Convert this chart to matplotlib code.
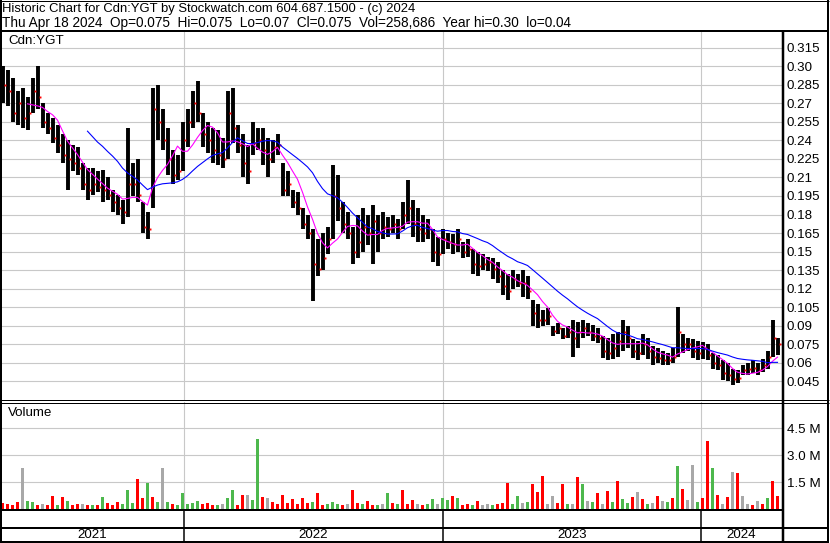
import numpy as np
import pandas as pd
import matplotlib
matplotlib.use("Agg")
import matplotlib.pyplot as plt
from matplotlib.lines import Line2D

W, H = 830, 543
plt.rcParams['font.family'] = ['Liberation Sans', 'DejaVu Sans']
FS = 9.6

# one sample = 5 trading days (about 5 px in the original chart)
step = 5
highs = [0.300, 0.297, 0.290, 0.280, 0.282, 0.275, 0.290, 0.300, 0.270, 0.262,
         0.258, 0.252, 0.245, 0.240, 0.236, 0.235, 0.222, 0.218, 0.218, 0.215,
         0.216, 0.210, 0.200, 0.196, 0.192, 0.250, 0.222, 0.225, 0.190, 0.182,
         0.282, 0.285, 0.265, 0.250, 0.232, 0.228, 0.255, 0.265, 0.280, 0.288,
         0.262, 0.255, 0.250, 0.248, 0.242, 0.280, 0.282, 0.252, 0.245, 0.236,
         0.255, 0.250, 0.250, 0.242, 0.240, 0.245, 0.222, 0.215, 0.200, 0.198,
         0.185, 0.180, 0.168, 0.160, 0.165, 0.170, 0.220, 0.212, 0.190, 0.182,
         0.170, 0.180, 0.185, 0.180, 0.188, 0.180, 0.182, 0.178, 0.180, 0.176,
         0.190, 0.208, 0.192, 0.185, 0.180, 0.176, 0.168, 0.162, 0.168, 0.165,
         0.164, 0.168, 0.158, 0.160, 0.152, 0.150, 0.148, 0.146, 0.145, 0.142,
         0.135, 0.132, 0.135, 0.132, 0.135, 0.130, 0.111, 0.108, 0.103, 0.104,
         0.090, 0.092, 0.088, 0.090, 0.095, 0.093, 0.095, 0.092, 0.091, 0.088,
         0.082, 0.080, 0.083, 0.085, 0.095, 0.090, 0.079, 0.078, 0.083, 0.080,
         0.074, 0.072, 0.070, 0.068, 0.072, 0.105, 0.083, 0.080, 0.079, 0.078,
         0.077, 0.075, 0.068, 0.066, 0.062, 0.060, 0.055, 0.054, 0.058, 0.060,
         0.062, 0.060, 0.063, 0.070, 0.095, 0.080]
lows = [0.270, 0.268, 0.255, 0.252, 0.250, 0.248, 0.262, 0.265, 0.250, 0.245,
        0.238, 0.230, 0.222, 0.200, 0.215, 0.212, 0.200, 0.192, 0.196, 0.198,
        0.190, 0.192, 0.182, 0.180, 0.172, 0.178, 0.195, 0.190, 0.165, 0.160,
        0.185, 0.240, 0.232, 0.212, 0.205, 0.208, 0.215, 0.235, 0.250, 0.255,
        0.235, 0.230, 0.222, 0.220, 0.218, 0.225, 0.238, 0.230, 0.210, 0.205,
        0.228, 0.232, 0.220, 0.210, 0.222, 0.228, 0.195, 0.195, 0.185, 0.180,
        0.168, 0.160, 0.110, 0.130, 0.135, 0.148, 0.160, 0.175, 0.165, 0.160,
        0.140, 0.145, 0.150, 0.155, 0.140, 0.150, 0.160, 0.162, 0.165, 0.160,
        0.168, 0.172, 0.162, 0.158, 0.158, 0.160, 0.142, 0.138, 0.148, 0.152,
        0.148, 0.150, 0.145, 0.146, 0.132, 0.130, 0.135, 0.134, 0.128, 0.125,
        0.115, 0.111, 0.120, 0.121, 0.113, 0.112, 0.090, 0.088, 0.090, 0.091,
        0.082, 0.083, 0.079, 0.080, 0.065, 0.072, 0.080, 0.082, 0.078, 0.076,
        0.064, 0.062, 0.063, 0.065, 0.070, 0.072, 0.064, 0.062, 0.066, 0.063,
        0.058, 0.060, 0.058, 0.058, 0.060, 0.065, 0.068, 0.070, 0.064, 0.062,
        0.063, 0.062, 0.055, 0.054, 0.046, 0.045, 0.042, 0.044, 0.050, 0.050,
        0.052, 0.050, 0.053, 0.055, 0.065, 0.066]
closes = [0.285, 0.280, 0.262, 0.270, 0.258, 0.262, 0.280, 0.275, 0.255, 0.250,
          0.242, 0.236, 0.228, 0.225, 0.222, 0.218, 0.205, 0.200, 0.205, 0.202,
          0.200, 0.196, 0.190, 0.185, 0.182, 0.205, 0.205, 0.196, 0.170, 0.168,
          0.265, 0.255, 0.240, 0.225, 0.212, 0.215, 0.240, 0.255, 0.270, 0.262,
          0.245, 0.240, 0.232, 0.228, 0.225, 0.262, 0.250, 0.236, 0.222, 0.215,
          0.238, 0.240, 0.232, 0.225, 0.235, 0.236, 0.200, 0.205, 0.190, 0.185,
          0.172, 0.165, 0.140, 0.136, 0.145, 0.160, 0.195, 0.185, 0.172, 0.165,
          0.150, 0.158, 0.170, 0.165, 0.175, 0.165, 0.170, 0.168, 0.172, 0.168,
          0.180, 0.185, 0.172, 0.168, 0.165, 0.168, 0.150, 0.148, 0.160, 0.158,
          0.156, 0.160, 0.150, 0.152, 0.140, 0.138, 0.140, 0.142, 0.136, 0.130,
          0.122, 0.118, 0.128, 0.125, 0.125, 0.118, 0.100, 0.095, 0.095, 0.098,
          0.086, 0.088, 0.082, 0.085, 0.080, 0.085, 0.088, 0.085, 0.082, 0.080,
          0.070, 0.068, 0.072, 0.078, 0.085, 0.080, 0.070, 0.068, 0.075, 0.070,
          0.065, 0.064, 0.062, 0.062, 0.065, 0.085, 0.075, 0.075, 0.070, 0.068,
          0.072, 0.066, 0.060, 0.058, 0.052, 0.050, 0.047, 0.048, 0.054, 0.055,
          0.056, 0.054, 0.058, 0.065, 0.080, 0.075]
# volume in millions of shares
volumes = [0.35, 0.30, 0.25, 0.40, 2.30, 0.45, 0.40, 0.25, 0.30, 0.20,
           0.72, 0.20, 0.68, 0.45, 0.25, 0.30, 0.30, 0.20, 0.20, 0.25,
           0.68, 0.35, 0.25, 0.40, 0.30, 1.06, 0.35, 1.67, 0.60, 1.45,
           0.68, 0.40, 2.30, 0.40, 0.30, 0.25, 0.90, 0.30, 0.35, 0.45,
           0.30, 0.35, 0.25, 0.20, 0.30, 0.60, 1.06, 0.25, 0.78, 0.77,
           0.50, 3.90, 0.68, 0.60, 0.40, 0.30, 0.80, 0.35, 0.55, 0.30,
           0.60, 0.35, 0.40, 0.90, 0.25, 0.30, 0.40, 0.30, 0.25, 0.30,
           1.06, 0.35, 0.30, 0.45, 0.25, 0.20, 0.30, 0.90, 0.35, 0.30,
           1.06, 0.30, 0.50, 0.30, 0.25, 0.30, 0.55, 0.30, 0.60, 0.50,
           0.75, 0.60, 0.25, 0.30, 0.25, 0.45, 0.25, 0.30, 0.25, 0.30,
           0.35, 1.45, 0.30, 0.70, 0.35, 0.40, 1.40, 0.95, 1.85, 0.30,
           0.75, 0.35, 1.40, 0.30, 0.30, 1.80, 1.40, 0.45, 0.40, 0.90,
           0.30, 1.00, 0.40, 1.55, 0.55, 0.35, 0.65, 0.95, 0.55, 0.30,
           0.35, 0.75, 0.45, 0.40, 0.60, 2.40, 1.10, 0.50, 2.45, 0.40,
           0.60, 3.80, 2.30, 0.80, 0.30, 0.65, 2.05, 2.00, 0.70, 0.30,
           0.25, 0.45, 0.30, 0.60, 1.55, 0.75]
# colour code per volume bar: r = down, g = up, k = unchanged
vol_codes = ("rrrrkggrkr" "rgrgrrkrgr" "grrrgggrrg" "rgkgrggggg"
             "rrrgkggrrk" "ggrkrrrrrr" "rrgrrgggrk" "rrgrrgkgrg"
             "rrrkrggkgg" "rgrrgrkkgr" "rrggkgrrrk" "krrgkrgkgr"
             "krgrggrkrg" "krkgrgrkkg" "rrgrkrkrkk" "rkrgrr")
year_names = ["2021", "2022", "2023", "2024"]
year_starts = [0, 184, 443, 701]
chart_end = 782
price_ticks = [0.045, 0.06, 0.075, 0.09, 0.105, 0.12, 0.135, 0.15, 0.165, 0.18,
               0.195, 0.21, 0.225, 0.24, 0.255, 0.27, 0.285, 0.30, 0.315]
vol_ticks = [1.5, 3.0, 4.5]

x = np.arange(len(closes)) * step + step / 2
close_s = pd.Series(closes)
ma_short = close_s.rolling(6).mean()
ma_long = close_s.rolling(18).mean()
colmap = {"r": "#ff0000", "g": "#4db84d", "k": "#a8a8a8"}
vcolors = [colmap[c] for c in vol_codes]


def fx(px):
    return px / W


def fy(py):
    return 1 - py / H


def pxline(fig, x0, y0, x1, y1, lw=1, color="black"):
    fig.add_artist(Line2D([fx(x0), fx(x1)], [fy(y0), fy(y1)], transform=fig.transFigure,
                          color=color, lw=lw * 0.72, solid_capstyle="butt"))


def rect(top, bottom, left=0, right=chart_end):
    return [fx(left), fy(bottom), fx(right) - fx(left), fy(top) - fy(bottom)]


fig = plt.figure(figsize=(W / 100, H / 100), dpi=100)
fig.patch.set_facecolor("white")

# --- price panel ---
ax = fig.add_axes(rect(32, 400))
ax.set_xlim(0, chart_end)
ax.set_ylim(0.03, 0.3276)
for t in price_ticks:
    ax.axhline(t, color="#c8c8c8", lw=0.8, zorder=0)
for xs in year_starts[1:]:
    ax.axvline(xs, color="#c8c8c8", lw=0.8, zorder=0)
ax.vlines(x, lows, highs, color="black", lw=2.8, zorder=2)
ax.plot(x + 2, closes, "s", color="#ff0000", ms=1.4, mew=0, zorder=3)
ax.plot(x, ma_short, color="#ff00ff", lw=0.8, zorder=4)
ax.plot(x, ma_long, color="#0000ff", lw=0.8, zorder=4)
ax.yaxis.tick_right()
ax.set_yticks(price_ticks)
ax.set_yticklabels([("%.3f" % t)[:-1] if ("%.3f" % t).endswith("0") else "%.3f" % t
                    for t in price_ticks], fontsize=FS)
ax.tick_params(axis="y", length=0, pad=3.5)
ax.set_xticks([])
for s in ax.spines.values():
    s.set_visible(False)
ax.text(8, 0.3276 - 9.5 * 0.015 / 18.55, "Cdn:YGT", fontsize=FS, va="center", ha="left",
        zorder=5)

# --- volume panel ---
vax = fig.add_axes(rect(402, 509))
vax.set_xlim(0, chart_end)
vax.set_ylim(0, 5.97)
for t in vol_ticks:
    vax.axhline(t, color="#c8c8c8", lw=0.8, zorder=0)
for xs in year_starts[1:]:
    vax.axvline(xs, color="#c8c8c8", lw=0.8, zorder=0)
vax.bar(x, volumes, width=3, color=vcolors, zorder=2)
vax.yaxis.tick_right()
vax.set_yticks(vol_ticks)
vax.set_yticklabels(["%.1f M" % t for t in vol_ticks], fontsize=FS)
vax.tick_params(axis="y", length=0, pad=3.5)
vax.set_xticks([])
for s in vax.spines.values():
    s.set_visible(False)
vax.text(8, 5.97 - 11 / 17.93, "Volume", fontsize=FS, va="center", ha="left", zorder=5)

# --- year row ---
for i, name in enumerate(year_names):
    end = year_starts[i + 1] if i + 1 < len(year_starts) else chart_end
    fig.text(fx((year_starts[i] + end) / 2), fy(535.5), name, fontsize=FS,
             ha="center", va="center")
for xs in year_starts[1:]:
    pxline(fig, xs, 510, xs, 542, lw=1.5)

# --- header ---
fig.text(fx(2), fy(9), "Historic Chart for Cdn:YGT by Stockwatch.com 604.687.1500 - (c) 2024",
         fontsize=9.4, ha="left", va="center")
fig.text(fx(2), fy(22.5),
         "Thu Apr 18 2024  Op=0.075  Hi=0.075  Lo=0.07  Cl=0.075  Vol=258,686  Year hi=0.30  lo=0.04",
         fontsize=9.8, ha="left", va="center")

# --- frame lines ---
pxline(fig, 0, 0.5, 829, 0.5, lw=1)
pxline(fig, 0, 31, 829, 31, lw=2)
pxline(fig, 0, 400, 829, 400, lw=1)
pxline(fig, 0, 402.5, 829, 402.5, lw=1)
pxline(fig, 0, 510, chart_end, 510, lw=2)
pxline(fig, 0, 527.5, 829, 527.5, lw=2)
pxline(fig, 0, 541.8, 829, 541.8, lw=2)
pxline(fig, 1, 0, 1, 543, lw=2)
pxline(fig, chart_end + 0.5, 31, chart_end + 0.5, 543, lw=2.5)
pxline(fig, 828, 0, 828, 543, lw=2)

fig.savefig("out.png", dpi=100)
